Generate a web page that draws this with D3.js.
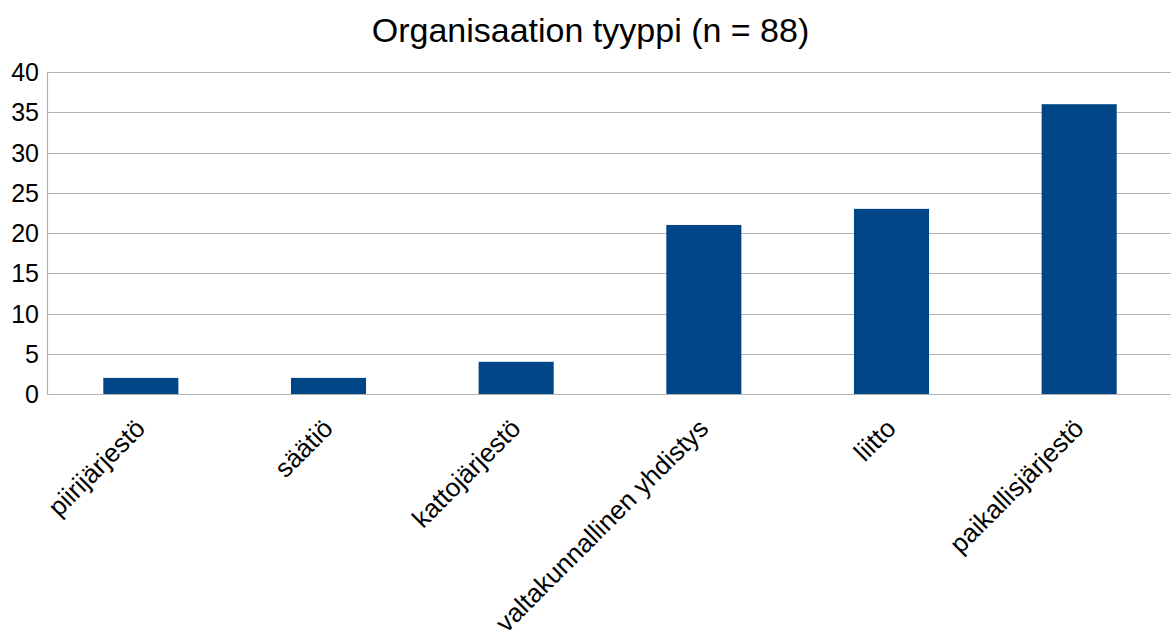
<!DOCTYPE html>
<html>
<head>
<meta charset="utf-8">
<script src="https://cdn.jsdelivr.net/npm/d3@7"></script>
<style>
  body { margin: 0; background: #fff; }
  text { font-family: "Liberation Sans", Arial, sans-serif; fill: #000; }
</style>
</head>
<body>
<div id="chart"></div>
<script>
// chart data
const categories = ["piirijärjestö", "säätiö", "kattojärjestö", "valtakunnallinen yhdistys", "liitto", "paikallisjärjestö"];
const counts = [2, 2, 4, 21, 23, 36];
const yTicks = [0, 5, 10, 15, 20, 25, 30, 35, 40];
const title = "Organisaation tyyppi (n = 88)";

const width = 1171, height = 634;
const margin = { top: 72, right: -2, bottom: 240, left: 47 };

const svg = d3.select("#chart")
  .append("svg")
  .attr("width", width)
  .attr("height", height);

const x = d3.scaleBand()
  .domain(categories)
  .range([margin.left, width - margin.right])
  .paddingInner(0.6)
  .paddingOuter(0.3);

const y = d3.scaleLinear()
  .domain([0, 40])
  .range([height - margin.bottom, margin.top]);

// gridlines
svg.append("g")
  .selectAll("line")
  .data(yTicks)
  .join("line")
  .attr("x1", margin.left)
  .attr("x2", width)
  .attr("y1", d => Math.round(y(d)) + 0.5)
  .attr("y2", d => Math.round(y(d)) + 0.5)
  .attr("stroke", "#b3b3b3")
  .attr("stroke-width", 1.2);

// y axis line
svg.append("line")
  .attr("x1", margin.left + 0.5)
  .attr("x2", margin.left + 0.5)
  .attr("y1", y(40))
  .attr("y2", y(0))
  .attr("stroke", "#b3b3b3")
  .attr("stroke-width", 1.2);

// y tick labels
svg.append("g")
  .selectAll("text")
  .data(yTicks)
  .join("text")
  .attr("x", margin.left - 8)
  .attr("y", d => y(d))
  .attr("dy", "0.36em")
  .attr("text-anchor", "end")
  .style("font-size", "25px")
  .text(d => d);

// bars
svg.append("g")
  .selectAll("rect")
  .data(counts)
  .join("rect")
  .attr("x", (d, i) => x(categories[i]))
  .attr("width", x.bandwidth())
  .attr("y", d => y(d))
  .attr("height", d => y(0) - y(d))
  .attr("fill", "#004586");

// x labels, rotated
svg.append("g")
  .selectAll("text")
  .data(categories)
  .join("text")
  .attr("text-anchor", "end")
  .attr("transform", d => `translate(${x(d) + x.bandwidth() / 2 + 6},${y(0) + 36}) rotate(-45)`)
  .style("font-size", "26px")
  .text(d => d);

// title
svg.append("text")
  .attr("x", width / 2 + 5)
  .attr("y", 42)
  .attr("text-anchor", "middle")
  .style("font-size", "34px")
  .text(title);
</script>
</body>
</html>
